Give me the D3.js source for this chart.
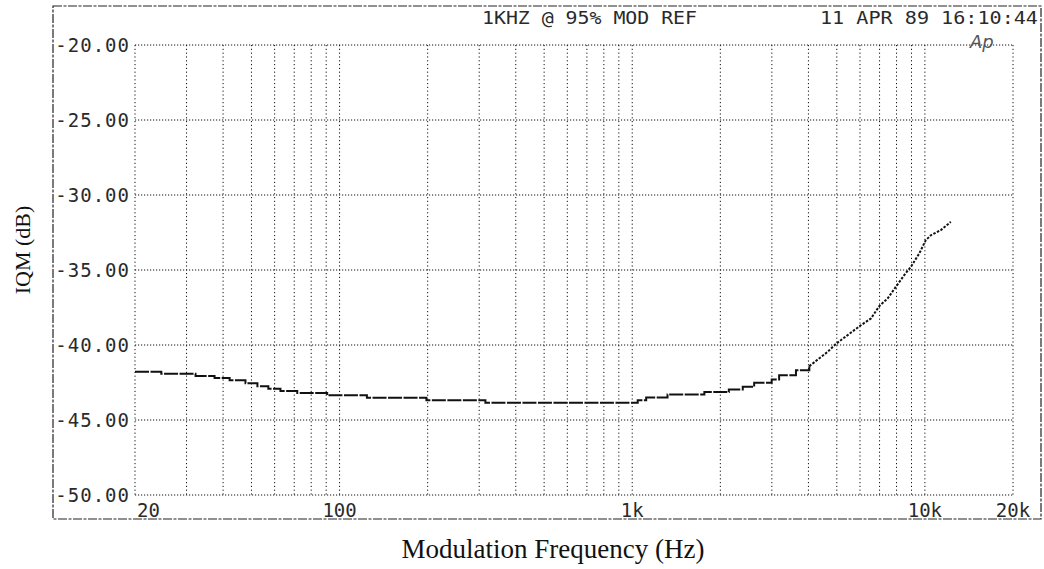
<!DOCTYPE html>
<html>
<head>
<meta charset="utf-8">
<script src="https://cdn.jsdelivr.net/npm/d3@7"></script>
<style>
    body { margin: 0; background: #fff; }
    .mono { font-family: "DejaVu Sans Mono", monospace; fill: #2a2a2a; }
    .serif { font-family: "Liberation Serif", "Times New Roman", serif; fill: #111; }
</style>
</head>
<body>
<div id="vis"></div>
<script>
// measured IQM curve (Hz, dB)
var freqs = [20, 24.6, 32.2, 37.4, 42.1, 47.7, 52.4, 57.1, 62.8, 71.7, 90.7, 124, 198, 315,
    1044, 1116, 1320, 1764, 2138, 2386, 2610, 2996, 3176, 3626, 4028,
    4302, 4652, 4982, 5446, 6044, 6542, 6982, 7456, 7958, 8498, 8954, 9564, 10072, 10484, 11336, 12260];
var levels = [-41.78, -41.91, -42.07, -42.2, -42.35, -42.55, -42.75, -42.91, -43.07, -43.2, -43.35, -43.51, -43.69, -43.85,
    -43.68, -43.5, -43.3, -43.14, -42.97, -42.79, -42.52, -42.3, -42.01, -41.68, -41.41,
    -40.97, -40.46, -39.9, -39.34, -38.68, -38.23, -37.41, -36.9, -36.12, -35.34, -34.79, -33.9, -33.01, -32.68, -32.34, -31.79];
var stepCount = 25; // first points are drawn as a staircase

var yTicks = [-20, -25, -30, -35, -40, -45, -50];
var yTickLabels = ["-20.00", "-25.00", "-30.00", "-35.00", "-40.00", "-45.00", "-50.00"];
var xTicks = [20, 100, 1000, 10000, 20000];
var xTickLabels = ["20", "100", "1k", "10k", "20k"];
var minorTicks = [30, 40, 50, 60, 70, 80, 90, 200, 300, 400, 500, 600, 700, 800, 900,
    2000, 3000, 4000, 5000, 6000, 7000, 8000, 9000];

var headerLeft = "1KHZ @ 95% MOD REF";
var headerRight = "11 APR 89 16:10:44";

var width = 1044, height = 569;

var svg = d3.select("#vis").append("svg")
    .attr("width", width)
    .attr("height", height);

var x = d3.scaleLog().domain([20, 20000]).range([135, 1013]);
var y = d3.scaleLinear().domain([-50, -20]).range([495, 45]);

// outer frame
svg.append("rect")
    .attr("x", 53).attr("y", 6)
    .attr("width", 988).attr("height", 513)
    .attr("fill", "none")
    .attr("stroke", "#222")
    .attr("stroke-width", 1.2)
    .attr("stroke-dasharray", "9,1.5,3,1.5");

// grid
var grid = svg.append("g");
grid.selectAll(".vline")
    .data(xTicks.concat(minorTicks))
    .enter().append("line")
    .attr("x1", function (d) { return x(d); })
    .attr("x2", function (d) { return x(d); })
    .attr("y1", y(-20)).attr("y2", y(-50))
    .attr("stroke", "#111")
    .attr("stroke-width", 1)
    .attr("stroke-dasharray", "1.2,2.6");

grid.selectAll(".hline")
    .data(yTicks)
    .enter().append("line")
    .attr("x1", x(20)).attr("x2", x(20000))
    .attr("y1", function (d) { return y(d); })
    .attr("y2", function (d) { return y(d); })
    .attr("stroke", "#111")
    .attr("stroke-width", 1)
    .attr("stroke-dasharray", "1.2,1.8");

// y labels
svg.selectAll(".ylab")
    .data(yTicks)
    .enter().append("text")
    .attr("class", "mono")
    .attr("x", 130)
    .attr("y", function (d) { return y(d); })
    .attr("text-anchor", "end")
    .attr("dominant-baseline", "central")
    .style("font-size", "19px")
    .style("letter-spacing", "1px")
    .text(function (d, i) { return yTickLabels[i]; });

// x labels
svg.selectAll(".xlab")
    .data(xTicks)
    .enter().append("text")
    .attr("class", "mono")
    .attr("x", function (d, i) { return i == 0 ? x(d) + 2 : x(d); })
    .attr("y", 510)
    .attr("text-anchor", function (d, i) { return i == 0 ? "start" : "middle"; })
    .attr("dominant-baseline", "central")
    .style("font-size", "19px")
    .text(function (d, i) { return xTickLabels[i]; });

// header
svg.append("text")
    .attr("class", "mono")
    .attr("x", 482).attr("y", 17)
    .attr("dominant-baseline", "central")
    .attr("textLength", 215)
    .attr("lengthAdjust", "spacingAndGlyphs")
    .style("font-size", "18px")
    .text(headerLeft);

svg.append("text")
    .attr("class", "mono")
    .attr("x", 820).attr("y", 17)
    .attr("dominant-baseline", "central")
    .attr("textLength", 218)
    .attr("lengthAdjust", "spacingAndGlyphs")
    .style("font-size", "18px")
    .text(headerRight);

svg.append("text")
    .attr("x", 970).attr("y", 41)
    .attr("dominant-baseline", "central")
    .style("font-family", "DejaVu Sans")
    .style("font-style", "italic")
    .style("font-size", "18px")
    .style("fill", "#555")
    .text("Ap");

// curve
var pts = freqs.map(function (f, i) { return [f, levels[i]]; });

var stepLine = d3.line()
    .x(function (d) { return x(d[0]); })
    .y(function (d) { return y(d[1]); })
    .curve(d3.curveStepAfter);

var riseLine = d3.line()
    .x(function (d) { return x(d[0]); })
    .y(function (d) { return y(d[1]); });

svg.append("path")
    .datum(pts.slice(0, stepCount))
    .attr("d", stepLine)
    .attr("fill", "none")
    .attr("stroke", "#111")
    .attr("stroke-width", 2)
    .attr("stroke-dasharray", "14,1.5");

svg.append("path")
    .datum(pts.slice(stepCount - 1))
    .attr("d", riseLine)
    .attr("fill", "none")
    .attr("stroke", "#111")
    .attr("stroke-width", 2)
    .attr("stroke-dasharray", "2.5,1.5");

// axis titles
svg.append("text")
    .attr("class", "serif")
    .attr("transform", "translate(22,250) rotate(-90)")
    .attr("text-anchor", "middle")
    .attr("dominant-baseline", "central")
    .style("font-size", "22px")
    .text("IQM (dB)");

svg.append("text")
    .attr("class", "serif")
    .attr("x", 553).attr("y", 558)
    .attr("text-anchor", "middle")
    .style("font-size", "27px")
    .text("Modulation Frequency (Hz)");
</script>
</body>
</html>
